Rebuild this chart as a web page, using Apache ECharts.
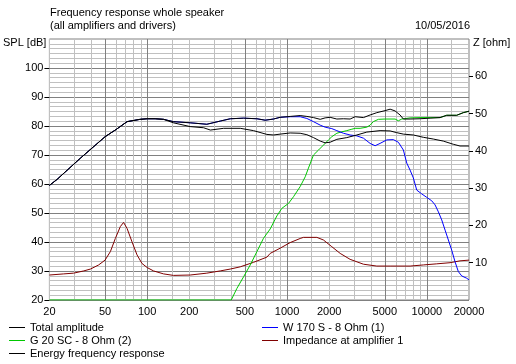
<!DOCTYPE html>
<html><head><meta charset="utf-8">
<script src="https://cdn.jsdelivr.net/npm/echarts@6/dist/echarts.min.js"></script>
<style>html,body{margin:0;padding:0;background:#fff}#c{width:516px;height:364px}</style>
</head><body><div id="c"></div>
<script>
// ---- axis / grid definitions (Hz, dB, ohm) ----
const gridFreqs = [20,30,40,50,60,70,80,90,100,150,200,300,400,500,600,700,800,900,1000,1500,2000,3000,4000,5000,6000,7000,8000,9000,10000,15000,20000];
const majorFreqs = [50,100,500,1000,5000,10000];
const xLabelFreqs = [20,50,100,200,500,1000,2000,5000,10000,20000];
const splTicks = [20,30,40,50,60,70,80,90,100];
const ohmTicks = [10,20,30,40,50,60];

// ---- Total amplitude (dB) ----
const totalFreq = [20,22.7,33.3,50,60,71.8,89,100,114,131,154,203,267,333,393,489,609,698,800,893,1053,1241,1386,1546,1726,1872,2032,2270,2532,2825,3068,3518,3926,4384,5024,5458,5920,6428,6792,7580,8934,10530,12414,13860,16340,18200,20000];
const totalDb = [59.5,61.6,68.9,76.3,78.8,81.5,82.3,82.5,82.5,82.3,81.5,81.1,80.6,81.7,82.5,82.7,82.5,82.0,82.4,83.0,83.3,83.6,83.3,82.9,82.3,82.8,83.0,82.4,82.5,82.4,83.2,82.9,83.8,84.6,85.3,85.8,85.2,83.8,82.4,82.4,82.5,82.7,82.9,83.7,83.7,84.6,85.1];

// ---- Energy frequency response (dB) ----
const energyFreq = [20,22.7,33.3,50,60,71.8,89,100,114,131,154,203,253,283,352,463,576,718,800,893,1053,1241,1386,1546,1726,1872,2032,2270,2675,3155,3718,4626,5458,6092,6792,8000,9432,11118,13100,15450,17250,20000];
const energyDb = [59.5,61.6,68.9,76.3,78.8,81.5,82.3,82.5,82.5,82.3,81.1,79.8,79.4,78.6,79.2,79.2,78.4,77.1,76.9,77.2,77.6,77.5,77.0,76.0,74.8,74.2,74.4,75.4,76.0,76.9,77.9,78.4,78.3,77.7,77.2,76.9,76.1,75.5,74.8,73.7,73.1,73.1];

// ---- W 170 S - 8 Ohm (1) (dB) ----
const wooferFreq = [20,22.7,33.3,50,60,71.8,89,100,114,131,154,203,267,333,393,489,609,698,800,893,1053,1241,1386,1546,1726,1872,2090,2270,2532,2825,3155,3518,3926,4264,4626,5166,5756,6252,6792,7180,7580,8000,8460,9180,9974,10830,11440,12080,12770,13490,14240,15040,15890,16780,17740,19280,20000];
const wooferDb = [59.5,61.6,68.9,76.3,78.8,81.5,82.3,82.5,82.5,82.3,81.5,81.1,80.6,81.7,82.5,82.7,82.5,82.0,82.4,83.0,83.2,83.2,82.6,81.5,80.3,79.6,79.1,78.4,77.5,76.9,76.6,75.8,74.0,73.2,74.0,75.2,75.3,74.4,71.7,67.2,64.8,62.1,57.9,56.6,55.4,54.2,52.8,50.4,47.6,44.1,40.7,37.2,33.2,29.8,28.3,27.5,26.9];

// ---- G 20 SC - 8 Ohm (2) (dB) ----
const tweeterFreq = [20,399,438,489,546,609,679,758,846,918,1024,1112,1241,1349,1423,1546,1678,1820,1978,2090,2270,2464,2675,2906,3068,3330,3718,3926,4140,4498,5024,5920,6252,6612,7580,8934,10530,12414,13860,16340,18200,20000];
const tweeterDb = [20,20,24.0,28.0,32.1,36.7,41.3,44.5,49.0,51.6,53.3,55.6,59.1,62.5,65.5,70.0,71.7,73.4,75.2,76.3,77.5,78.0,78.4,78.9,79.2,79.2,79.6,80.3,81.5,82.3,82.4,82.4,81.8,82.4,82.8,82.9,82.9,82.9,83.7,83.7,84.6,85.1];

// ---- Impedance at amplifier 1 (ohm) ----
const impFreq = [20,25.3,29.8,35.2,39.3,45,50,54.6,59.2,64.3,67.8,71.8,77.9,84.6,91.8,100,111,131,154,203,267,333,393,463,576,718,758,893,1053,1241,1310,1634,1820,2090,2398,2825,3518,4384,5458,7580,9432,11760,14630,17250,20000];
const impOhm = [6.7,7.0,7.2,7.8,8.3,9.4,10.7,13.0,16.5,19.7,20.8,19.2,15.6,12.1,9.8,8.7,7.8,7.0,6.6,6.7,7.2,7.8,8.3,8.9,10.1,11.5,12.5,13.9,15.4,16.5,16.8,16.8,16.1,14.3,12.5,10.9,9.6,9.1,9.1,9.1,9.4,9.7,10.0,10.5,10.7];

const L = Math.log10;
const toPts = (fs, vs) => fs.map((f, i) => [L(f), vs[i]]);
const font = '"Liberation Sans", Arial, sans-serif';
const dark = '#808080', light = '#c0c0c0';
const gridColors = gridFreqs.map(f => majorFreqs.includes(f) ? dark : light);
const txt = {fontFamily: font, fontSize: 11, color: '#000', fontWeight: 'normal'};

function lineSeries(name, fs, vs, color, yIdx, z) {
  return {name, type: 'line', yAxisIndex: yIdx, data: toPts(fs, vs), symbol: 'none', showSymbol: false,
    color, lineStyle: {width: 1, color}, itemStyle: {color}, silent: true, z,
    emphasis: {disabled: true}, clip: true};
}

const chart = echarts.init(document.getElementById('c'), null, {renderer: 'canvas'});
chart.setOption({
  animation: false,
  backgroundColor: '#fff',
  textStyle: txt,
  title: [
    {text: 'Frequency response whole speaker\n(all amplifiers and drivers)', left: 50, top: 6, padding: 0,
     textStyle: Object.assign({}, txt, {lineHeight: 13})},
    {text: '10/05/2016', right: 46, top: 19, padding: 0, textStyle: Object.assign({}, txt, {lineHeight: 13})}
  ],
  legend: [
    {left: 9, top: 321, orient: 'vertical', padding: 0, itemWidth: 16, itemHeight: 1, itemGap: 0, icon: 'rect',
     data: ['Total amplitude', 'G 20 SC - 8 Ohm (2)', 'Energy frequency response'],
     textStyle: Object.assign({}, txt, {lineHeight: 13}), selectedMode: false},
    {left: 262, top: 321, orient: 'vertical', padding: 0, itemWidth: 16, itemHeight: 1, itemGap: 0, icon: 'rect',
     data: ['W 170 S - 8 Ohm (1)', 'Impedance at amplifier 1'],
     textStyle: Object.assign({}, txt, {lineHeight: 13}), selectedMode: false}
  ],
  grid: {left: 49, top: 39, width: 420, height: 261, show: true, borderColor: dark, borderWidth: 1, backgroundColor: 'transparent'},
  xAxis: {
    type: 'value', min: L(20), max: L(20000),
    axisLine: {show: false},
    axisTick: {show: false, customValues: gridFreqs.map(L)},
    splitLine: {show: true, lineStyle: {color: gridColors, width: 1}},
    axisLabel: {customValues: xLabelFreqs.map(L), formatter: v => String(Math.round(Math.pow(10, v))), margin: 6,
      color: '#000', fontSize: 11, fontFamily: font}
  },
  yAxis: [
    {type: 'value', min: 20, max: 110, interval: 10, position: 'left',
     name: 'SPL [dB]', nameLocation: 'end', nameGap: -4,
     nameTextStyle: Object.assign({}, txt, {align: 'right', verticalAlign: 'middle', padding: [0, 3, 0, 0]}),
     axisLine: {show: false},
     axisTick: {show: true, length: 5, inside: false, lineStyle: {color: '#000'}, customValues: splTicks},
     axisLabel: {formatter: v => v > 100 ? '' : String(v), margin: 6, color: '#000', fontSize: 11, fontFamily: font},
     splitLine: {show: true, lineStyle: {color: dark, width: 1}},
     minorTick: {show: false, splitNumber: 6},
     minorSplitLine: {show: true, lineStyle: {color: light, width: 1}}},
    {type: 'value', min: 0, max: 70, interval: 10, position: 'right',
     name: 'Z [ohm]', nameLocation: 'end', nameGap: -4,
     nameTextStyle: Object.assign({}, txt, {align: 'left', verticalAlign: 'middle', padding: [0, 0, 0, 4]}),
     axisLine: {show: false},
     axisTick: {show: true, length: 4, inside: false, lineStyle: {color: '#000'}, customValues: ohmTicks},
     axisLabel: {formatter: v => (v <= 0 || v >= 70) ? '' : String(v), margin: 6, color: '#000', fontSize: 11, fontFamily: font},
     splitLine: {show: false}}
  ],
  series: [
    lineSeries('Impedance at amplifier 1', impFreq, impOhm, '#800000', 1, 2),
    lineSeries('G 20 SC - 8 Ohm (2)', tweeterFreq, tweeterDb, '#00c800', 0, 3),
    lineSeries('W 170 S - 8 Ohm (1)', wooferFreq, wooferDb, '#0000ff', 0, 4),
    lineSeries('Energy frequency response', energyFreq, energyDb, '#000000', 0, 5),
    lineSeries('Total amplitude', totalFreq, totalDb, '#000000', 0, 6)
  ]
});
</script>
</body></html>
